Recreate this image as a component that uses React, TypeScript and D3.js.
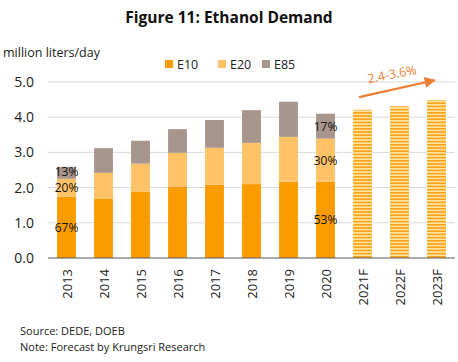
import React, { useRef, useEffect } from 'react';
import * as d3 from 'd3';

const years = ['2013', '2014', '2015', '2016', '2017', '2018', '2019', '2020', '2021F', '2022F', '2023F'];
const e10 = [1.74, 1.69, 1.89, 2.02, 2.08, 2.1, 2.17, 2.17, 0, 0, 0];
const e20 = [0.51, 0.73, 0.79, 0.97, 1.05, 1.17, 1.27, 1.22, 0, 0, 0];
const e85 = [0.34, 0.7, 0.65, 0.67, 0.79, 0.93, 1.0, 0.71, 0, 0, 0];
const forecast = [0, 0, 0, 0, 0, 0, 0, 0, 4.21, 4.31, 4.48];
const seriesNames = ['E10', 'E20', 'E85'];
const seriesColors = ['#FA9C00', '#FFC266', '#A8968C'];
const yTicks = [0, 1, 2, 3, 4, 5];
const shareLabels = [
  { year: '2013', values: ['67%', '20%', '13%'] },
  { year: '2020', values: ['53%', '30%', '17%'] },
];
const growthLabel = '2.4-3.6%';

const W = 458;
const H = 362;

const App: React.FC = () => {
  const svgRef = useRef<SVGSVGElement>(null);

  useEffect(() => {
    if (!svgRef.current) return;
    const svg = d3.select(svgRef.current);
    svg.selectAll('*').remove();

    const font = 'Open Sans, Liberation Sans, sans-serif';
    const margin = { left: 48, right: 3, top: 82, bottom: 104 };

    const x = d3.scaleBand<string>()
      .domain(years)
      .range([margin.left, W - margin.right])
      .paddingInner(0.49)
      .paddingOuter(0.245);
    const y = d3.scaleLinear().domain([0, 5]).range([H - margin.bottom, margin.top]);

    // stripe pattern for forecast bars
    const defs = svg.append('defs');
    const pat = defs.append('pattern')
      .attr('id', 'stripes')
      .attr('patternUnits', 'userSpaceOnUse')
      .attr('width', 10)
      .attr('height', 3.2);
    pat.append('rect').attr('width', 10).attr('height', 3.2).attr('fill', '#FFE7A6');
    pat.append('rect').attr('width', 10).attr('height', 1.7).attr('fill', '#F7A21B');

    // title
    svg.append('text')
      .attr('x', W / 2)
      .attr('y', 23)
      .attr('text-anchor', 'middle')
      .attr('font-family', font)
      .attr('font-weight', 'bold')
      .attr('font-size', 15.5)
      .attr('fill', '#111')
      .text('Figure 11: Ethanol Demand');

    svg.append('text')
      .attr('x', 3)
      .attr('y', 57)
      .attr('font-family', font)
      .attr('font-size', 12.5)
      .attr('fill', '#222')
      .text('million liters/day');

    // legend
    const legendX = [165, 218, 262];
    seriesNames.forEach((name, i) => {
      svg.append('rect')
        .attr('x', legendX[i])
        .attr('y', 60)
        .attr('width', 8)
        .attr('height', 8)
        .attr('fill', seriesColors[i]);
      svg.append('text')
        .attr('x', legendX[i] + 12)
        .attr('y', 69)
        .attr('font-family', font)
        .attr('font-size', 12.5)
        .attr('fill', '#222')
        .text(name);
    });

    // gridlines + y labels
    yTicks.forEach(t => {
      if (t > 0) {
        svg.append('line')
          .attr('x1', margin.left)
          .attr('x2', W - margin.right)
          .attr('y1', y(t))
          .attr('y2', y(t))
          .attr('stroke', '#D9D9D9')
          .attr('stroke-width', 1);
      }
      svg.append('text')
        .attr('x', 34)
        .attr('y', y(t) + 5)
        .attr('text-anchor', 'end')
        .attr('font-family', font)
        .attr('font-size', 14)
        .attr('fill', '#222')
        .text(t.toFixed(1));
    });

    // stacked bars
    const rows = years.map((yr, i) => ({ year: yr, E10: e10[i], E20: e20[i], E85: e85[i] }));
    const stack = d3.stack<any>().keys(seriesNames)(rows);
    stack.forEach((layer, li) => {
      svg.append('g')
        .selectAll('rect')
        .data(layer.filter(d => d[1] - d[0] > 0))
        .enter()
        .append('rect')
        .attr('x', d => x(d.data.year)!)
        .attr('width', x.bandwidth())
        .attr('y', d => y(d[1]))
        .attr('height', d => y(d[0]) - y(d[1]))
        .attr('fill', seriesColors[li]);
    });

    // forecast bars
    svg.append('g')
      .selectAll('rect')
      .data(years.map((yr, i) => ({ year: yr, v: forecast[i] })).filter(d => d.v > 0))
      .enter()
      .append('rect')
      .attr('x', d => x(d.year)!)
      .attr('width', x.bandwidth())
      .attr('y', d => y(d.v))
      .attr('height', d => y(0) - y(d.v))
      .attr('fill', 'url(#stripes)');

    // share labels (thin segments get nudged apart a little)
    shareLabels.forEach(sl => {
      const row = stack.map(layer => layer.find(d => d.data.year === sl.year)!);
      row.forEach((d, i) => {
        const segH = y(d[0]) - y(d[1]);
        const nudge = segH < 16 ? (i === 2 ? -1.5 : 1.5) : 0;
        svg.append('text')
          .attr('x', x(sl.year)! + x.bandwidth() / 2)
          .attr('y', y((d[0] + d[1]) / 2) + 4.5 + nudge)
          .attr('text-anchor', 'middle')
          .attr('font-family', font)
          .attr('font-size', 12)
          .attr('fill', '#111')
          .text(sl.values[i]);
      });
    });

    // axis line
    svg.append('line')
      .attr('x1', margin.left)
      .attr('x2', W - margin.right)
      .attr('y1', y(0))
      .attr('y2', y(0))
      .attr('stroke', '#595959')
      .attr('stroke-width', 1.2);

    // x labels
    years.forEach(yr => {
      const cx = x(yr)! + x.bandwidth() / 2;
      svg.append('text')
        .attr('transform', `translate(${cx + 5},${y(0) + 11}) rotate(-90)`)
        .attr('text-anchor', 'end')
        .attr('font-family', font)
        .attr('font-size', 13)
        .attr('fill', '#222')
        .text(yr);
    });

    // growth arrow
    const ax1 = x('2021F')! + 6;
    const ay1 = y(4.57);
    const ax2 = x('2023F')! + x.bandwidth() * 0.4;
    const ay2 = y(5.05);
    defs.append('marker')
      .attr('id', 'arrowhead')
      .attr('viewBox', '0 0 10 10')
      .attr('refX', 9)
      .attr('refY', 5)
      .attr('markerWidth', 5.5)
      .attr('markerHeight', 5)
      .attr('orient', 'auto')
      .append('path')
      .attr('d', 'M0,0 L10,5 L0,10 Z')
      .attr('fill', '#ED7D31');
    svg.append('line')
      .attr('x1', ax1)
      .attr('y1', ay1)
      .attr('x2', ax2)
      .attr('y2', ay2)
      .attr('stroke', '#ED7D31')
      .attr('stroke-width', 2.2)
      .attr('marker-end', 'url(#arrowhead)');
    svg.append('text')
      .attr('transform', `translate(${(ax1 + ax2) / 2 - 4},${y(5.1)}) rotate(-11)`)
      .attr('text-anchor', 'middle')
      .attr('font-family', font)
      .attr('font-size', 12.5)
      .attr('fill', '#ED7D31')
      .text(growthLabel);

    // footnotes
    svg.append('text')
      .attr('x', 20)
      .attr('y', 335)
      .attr('font-family', font)
      .attr('font-size', 11)
      .attr('fill', '#222')
      .text('Source: DEDE, DOEB');
    svg.append('text')
      .attr('x', 20)
      .attr('y', 351)
      .attr('font-family', font)
      .attr('font-size', 11)
      .attr('fill', '#222')
      .text('Note: Forecast by Krungsri Research');
  }, []);

  return (
    <svg
      ref={svgRef}
      width={W}
      height={H}
      style={{ position: 'absolute', left: 0, top: 0, background: '#fff' }}
    />
  );
};

export default App;
